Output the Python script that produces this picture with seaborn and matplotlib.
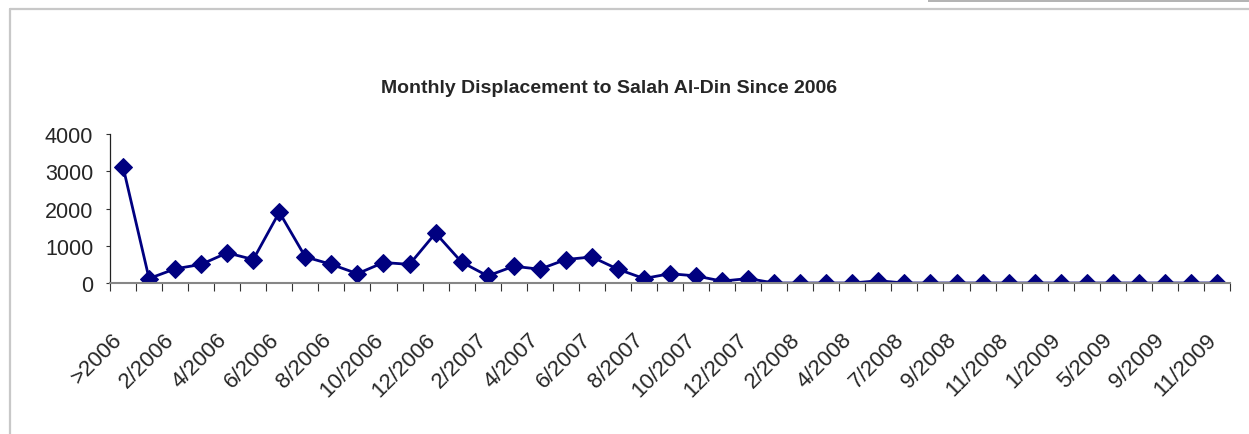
import numpy as np
import matplotlib
matplotlib.use("Agg")
import matplotlib.pyplot as plt
import seaborn as sns
from matplotlib.transforms import ScaledTranslation
from matplotlib.lines import Line2D
from matplotlib.patches import Rectangle

# data (43 monthly points, every other one labelled)
displaced = [3120, 120, 380, 500, 810, 630, 1900, 700, 500, 250,
             550, 500, 1340, 560, 190, 450, 370, 630, 700, 370,
             120, 250, 190, 50, 120, 0, 0, 0, 0, 60,
             0, 0, 0, 0, 0, 0, 0, 0, 0, 0, 0, 0, 0]
month_labels = [">2006", "2/2006", "4/2006", "6/2006", "8/2006", "10/2006",
                "12/2006", "2/2007", "4/2007", "6/2007", "8/2007", "10/2007",
                "12/2007", "2/2008", "4/2008", "7/2008", "9/2008", "11/2008",
                "1/2009", "5/2009", "9/2009", "11/2009"]
y_ticks = [0, 1000, 2000, 3000, 4000]

sns.set_style("white")
plt.rcParams["font.family"] = ["Liberation Sans", "DejaVu Sans"]

W, H = 1249, 435
fig = plt.figure(figsize=(W / 100, H / 100), dpi=100)
ax = fig.add_axes([110 / W, 1 - 284 / H, 1120 / W, 149 / H])

pos = np.arange(len(displaced))
sns.lineplot(x=pos, y=displaced, ax=ax, color="#000080", linewidth=2,
             marker="D", markersize=9.5, markeredgecolor="#000080",
             markerfacecolor="#000080")

ax.set_xlim(-0.5, len(displaced) - 0.5)
ax.set_ylim(0, 4000)
ax.set_yticks(y_ticks)
ax.set_yticklabels([str(v) for v in y_ticks], fontsize=15.5)
ax.tick_params(axis="y", length=3, width=0.8, color="#333333", pad=9, left=True)

ax.set_xticks(pos[::2])
ax.set_xticklabels(month_labels, fontsize=16, rotation=45, ha="right",
                   va="top", rotation_mode="anchor")
ax.set_xticks(np.arange(-0.5, len(displaced), 1), minor=True)
ax.tick_params(axis="x", which="major", length=0, pad=33)
ax.tick_params(axis="x", which="minor", length=6, width=0.8, color="#333333",
               bottom=True, direction="out")
shift = ScaledTranslation(-0.11, 0, fig.dpi_scale_trans)
for lab in ax.get_xticklabels():
    lab.set_transform(lab.get_transform() + shift)

ax.set_xlabel("")
ax.set_ylabel("")
for s in ["top", "right"]:
    ax.spines[s].set_visible(False)
ax.spines["left"].set_color("#222222")
ax.spines["left"].set_linewidth(0.9)
ax.spines["bottom"].set_color("#868686")
ax.spines["bottom"].set_linewidth(1.5)

ax.set_title("Monthly Displacement to Salah Al-Din Since 2006",
             fontsize=14, fontweight="bold", x=0.446, y=1.28, pad=0)

# chart frame (light grey border) and grey strip at top right
fig.add_artist(Line2D([10 / W, 1], [1 - 10 / H, 1 - 10 / H],
                      transform=fig.transFigure, color="#c8c8c8", lw=1.6))
fig.add_artist(Line2D([10 / W, 10 / W], [0, 1 - 10 / H],
                      transform=fig.transFigure, color="#c8c8c8", lw=1.6))
fig.add_artist(Rectangle((928 / W, 1 - 3 / H), 1 - 928 / W, 3 / H,
                         transform=fig.transFigure, color="#b4b4b4", lw=0))

fig.savefig("out.png", dpi=100)
